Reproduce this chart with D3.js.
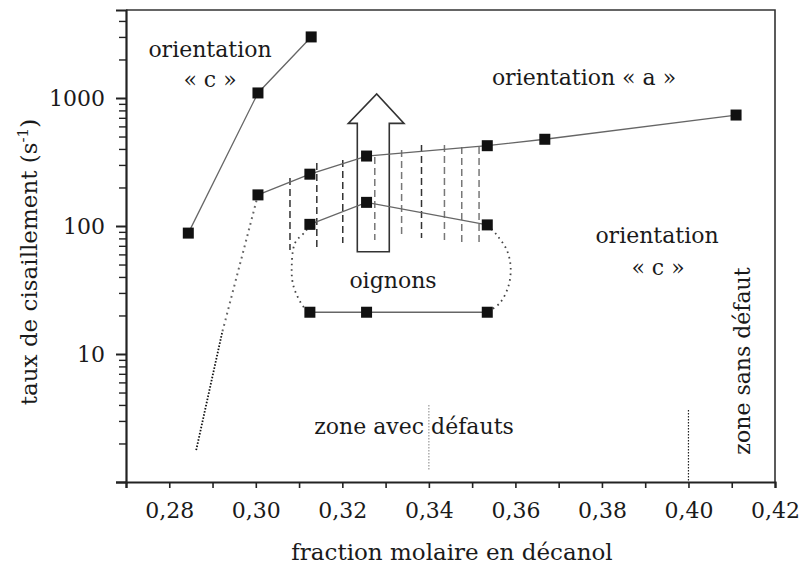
<!DOCTYPE html>
<html>
	<head>
		<meta charset="utf8" />
		<script src="https://cdn.jsdelivr.net/npm/d3@7"></script>
		<style>
			body { margin: 0; background: #fff; }
			text { font-family: "DejaVu Serif", serif; fill: #1a1a1a; }
			.axis path, .axis line { stroke: #222; }
		</style>
	</head>
	<body>
		<script>
			var w = 801;
			var h = 567;

			// x ticks (fraction molaire) and their labels
			var xTicks = [0.27, 0.28, 0.29, 0.30, 0.31, 0.32, 0.33, 0.34, 0.35, 0.36, 0.37, 0.38, 0.39, 0.40, 0.41, 0.42];
			var xLabels = {"0.28": "0,28", "0.30": "0,30", "0.32": "0,32", "0.34": "0,34",
				"0.36": "0,36", "0.38": "0,38", "0.40": "0,40", "0.42": "0,42"};
			var yMajor = [1, 10, 100, 1000];
			var yMinor = [2, 3, 4, 5, 6, 7, 8, 9, 20, 30, 40, 50, 60, 70, 80, 90,
				200, 300, 400, 500, 600, 700, 800, 900, 2000, 3000, 4000];

			// orientation "c" branch (left)
			var cX = [0.2844, 0.3005, 0.3128];
			var cY = [88, 1095, 3000];
			// orientation "a" branch
			var aX = [0.3005, 0.3125, 0.3256, 0.3535, 0.3668, 0.411];
			var aY = [175, 254, 352, 424, 476, 736];
			// oignons, upper and lower limits
			var onionX = [0.3125, 0.3256, 0.3535];
			var onionTopY = [103, 153, 102];
			var onionLowY = [21.2, 21.2, 21.2];

			// dotted outline of the oignons domain
			var leftLoop = [[0.3125, 103], [0.3114, 90], [0.3091, 74], [0.3083, 48], [0.3087, 34], [0.3110, 23.4], [0.3125, 21.2]];
			var rightLoop = [[0.3535, 102], [0.3557, 85], [0.3580, 65], [0.3589, 48], [0.3584, 34], [0.3564, 25], [0.3535, 21.2]];
			// dotted extrapolation below the "a" branch
			var lowGray = [[0.3005, 175], [0.2922, 14.6]];
			var lowBlack = [[0.2922, 14.6], [0.2862, 1.76]];

			// hatched zone: vertical dashed lines [x, top, bottom]
			var hatch = [[0.3079, 237, 65], [0.3141, 311, 68.5], [0.3201, 328, 73.6], [0.3275, 346, 77.7],
				[0.3337, 392, 82], [0.3383, 430, 80.6], [0.3436, 430, 73.6], [0.3476, 414, 73.6], [0.3516, 414, 71]];

			// big arrow outline
			var arrow = [[0.32346, 63], [0.32346, 634], [0.32138, 634], [0.32794, 1074],
				[0.33425, 634], [0.33085, 634], [0.33085, 63]];

			// zone limits
			var zoneLines = [[0.34, 4.0, 1.24, "#999"], [0.40, 3.65, 1, "#222"]];

			var svg = d3.select("body")
						.append("svg")
						.attr("width", w)
						.attr("height", h);

			var x = d3.scaleLinear().domain([0.27, 0.42]).range([126, 775]);
			var y = d3.scaleLog().domain([1, Math.pow(10, 3.6875)]).range([482, 10]);

			// frame
			svg.append("path")
			   .attr("d", "M" + x(0.27) + "," + y.range()[1] + "H" + x(0.42) + "V" + y(1))
			   .attr("fill", "none")
			   .attr("stroke", "#333")
			   .attr("stroke-width", 1.6);

			// axes
			var xAxis = d3.axisBottom(x)
						  .tickValues(xTicks)
						  .tickSize(6)
						  .tickPadding(14)
						  .tickFormat(function(d) { return xLabels[d.toFixed(2)] || ""; });
			var gx = svg.append("g")
						.attr("class", "axis")
						.attr("transform", "translate(0," + y(1) + ")")
						.call(xAxis);
			gx.select(".domain").attr("stroke-width", 2.2);
			gx.selectAll("line").attr("stroke-width", 1.6);
			gx.selectAll("text").style("font-size", "22px").style("font-family", "DejaVu Serif").attr("fill", "#1a1a1a");

			var yAxis = d3.axisLeft(y)
						  .tickValues(yMajor)
						  .tickSize(10)
						  .tickPadding(11)
						  .tickFormat(function(d) { return d == 1 ? "" : d; });
			var gy = svg.append("g")
						.attr("class", "axis")
						.attr("transform", "translate(" + x(0.27) + ",0)")
						.call(yAxis);
			gy.select(".domain").attr("stroke-width", 2.2);
			gy.selectAll("line").attr("stroke-width", 2);
			gy.selectAll("text").style("font-size", "22px").style("font-family", "DejaVu Serif").attr("fill", "#1a1a1a");

			var gym = svg.append("g")
						 .attr("class", "axis")
						 .attr("transform", "translate(" + x(0.27) + ",0)")
						 .call(d3.axisLeft(y).tickValues(yMinor).tickSize(7).tickFormat(""));
			gym.select(".domain").remove();
			gym.selectAll("line").attr("stroke-width", 1.4);

			var line = d3.line()
						 .x(function(d) { return x(d[0]); })
						 .y(function(d) { return y(d[1]); });
			var curve = d3.line()
						  .curve(d3.curveCatmullRom)
						  .x(function(d) { return x(d[0]); })
						  .y(function(d) { return y(d[1]); });

			// hatched zone
			svg.selectAll(".hatch")
			   .data(hatch)
			   .enter()
			   .append("line")
			   .attr("class", "hatch")
			   .attr("x1", function(d) { return x(d[0]); })
			   .attr("x2", function(d) { return x(d[0]); })
			   .attr("y1", function(d) { return y(d[1]); })
			   .attr("y2", function(d) { return y(d[2]); })
			   .attr("stroke", function(d, i) { return (i < 3 || i == 5) ? "#333" : "#777"; })
			   .attr("stroke-width", 1.5)
			   .attr("stroke-dasharray", "7,4");

			// zone limits
			svg.selectAll(".zone")
			   .data(zoneLines)
			   .enter()
			   .append("line")
			   .attr("x1", function(d) { return x(d[0]); })
			   .attr("x2", function(d) { return x(d[0]); })
			   .attr("y1", function(d) { return y(d[1]); })
			   .attr("y2", function(d) { return y(d[2]); })
			   .attr("stroke", function(d) { return d[3]; })
			   .attr("stroke-width", 1.2)
			   .attr("stroke-dasharray", "1.5,1.5");

			// arrow
			svg.append("path")
			   .attr("d", line(arrow) + "Z")
			   .attr("fill", "none")
			   .attr("stroke", "#333")
			   .attr("stroke-width", 1.6);

			// dotted curves
			[leftLoop, rightLoop].forEach(function(p) {
				svg.append("path")
				   .attr("d", curve(p))
				   .attr("fill", "none")
				   .attr("stroke", "#444")
				   .attr("stroke-width", 1.8)
				   .attr("stroke-dasharray", "1.6,4");
			});
			svg.append("path")
			   .attr("d", line(lowGray))
			   .attr("fill", "none")
			   .attr("stroke", "#666")
			   .attr("stroke-width", 2)
			   .attr("stroke-dasharray", "1.8,4");
			svg.append("path")
			   .attr("d", line(lowBlack))
			   .attr("fill", "none")
			   .attr("stroke", "#111")
			   .attr("stroke-width", 1.8)
			   .attr("stroke-dasharray", "1.6,1.6");

			// series lines and squares
			var series = [
				d3.zip(cX, cY),
				d3.zip(aX, aY),
				d3.zip(onionX, onionTopY),
				d3.zip(onionX, onionLowY)
			];
			series.forEach(function(s) {
				svg.append("path")
				   .attr("d", line(s))
				   .attr("fill", "none")
				   .attr("stroke", "#666")
				   .attr("stroke-width", 1.3);
			});
			series.forEach(function(s) {
				svg.selectAll(null)
				   .data(s)
				   .enter()
				   .append("rect")
				   .attr("x", function(d) { return x(d[0]) - 5.5; })
				   .attr("y", function(d) { return y(d[1]) - 5.5; })
				   .attr("width", 11)
				   .attr("height", 11)
				   .attr("fill", "#111");
			});

			// annotations
			var notes = [
				["orientation", 210, 57], ["« c »", 210, 87],
				["orientation « a »", 584, 85],
				["orientation", 657, 243], ["« c »", 658, 275],
				["oignons", 393, 288],
				["zone avec défauts", 414, 434]
			];
			svg.selectAll(".note")
			   .data(notes)
			   .enter()
			   .append("text")
			   .attr("x", function(d) { return d[1]; })
			   .attr("y", function(d) { return d[2]; })
			   .attr("text-anchor", "middle")
			   .style("font-size", "22px")
			   .text(function(d) { return d[0]; });

			svg.append("text")
			   .attr("transform", "translate(750,361) rotate(-90)")
			   .attr("text-anchor", "middle")
			   .style("font-size", "22px")
			   .text("zone sans défaut");

			// axis titles
			svg.append("text")
			   .attr("x", 452)
			   .attr("y", 560)
			   .attr("text-anchor", "middle")
			   .style("font-size", "23px")
			   .text("fraction molaire en décanol");

			var yt = svg.append("text")
						.attr("transform", "translate(37,262) rotate(-90)")
						.attr("text-anchor", "middle")
						.style("font-size", "23px");
			yt.append("tspan").text("taux de cisaillement (s");
			yt.append("tspan").attr("baseline-shift", "super").style("font-size", "15px").text("-1");
			yt.append("tspan").text(")");
		</script>
	</body>
</html>
